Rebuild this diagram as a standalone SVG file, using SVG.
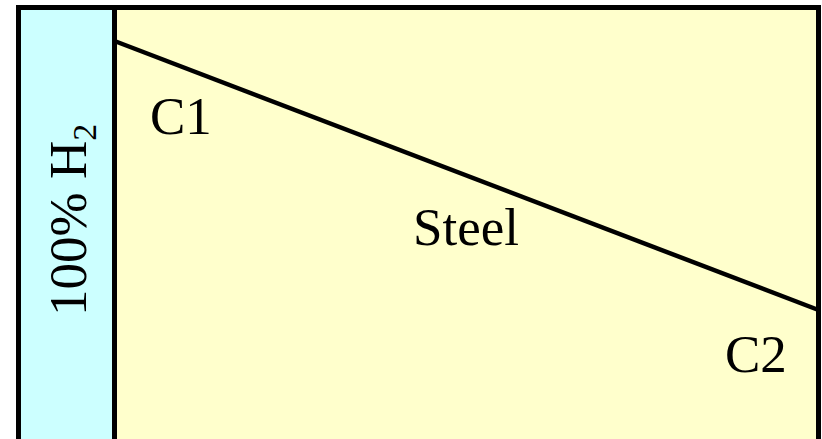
<svg xmlns="http://www.w3.org/2000/svg" width="822" height="439" viewBox="0 0 822 439">
<style>
text{font-family:'Liberation Serif','Times New Roman',serif;font-size:53px;fill:#000}
.ln{stroke:#000;stroke-width:5;fill:none}
</style>
<rect width="822" height="439" fill="#fff"/>
<g id="gas">
<rect x="18.5" y="7.5" width="96" height="434" fill="#CCFFFF"/>
<text transform="translate(86,316) rotate(-90)">100% H<tspan font-size="34" dy="10">2</tspan></text>
</g>
<g id="steel">
<rect x="114.5" y="7.5" width="704" height="434" fill="#FFFFCC"/>
<text x="150" y="134">C1</text>
<text x="413" y="245">Steel</text>
<text x="725" y="372">C2</text>
</g>
<g id="connectors">
<rect class="ln" x="18.5" y="7.5" width="800" height="434"/>
<line class="ln" x1="114.5" y1="7.5" x2="114.5" y2="441"/>
<line x1="114.5" y1="41" x2="818.5" y2="310" stroke="#000" stroke-width="4.5"/>
</g>
</svg>
